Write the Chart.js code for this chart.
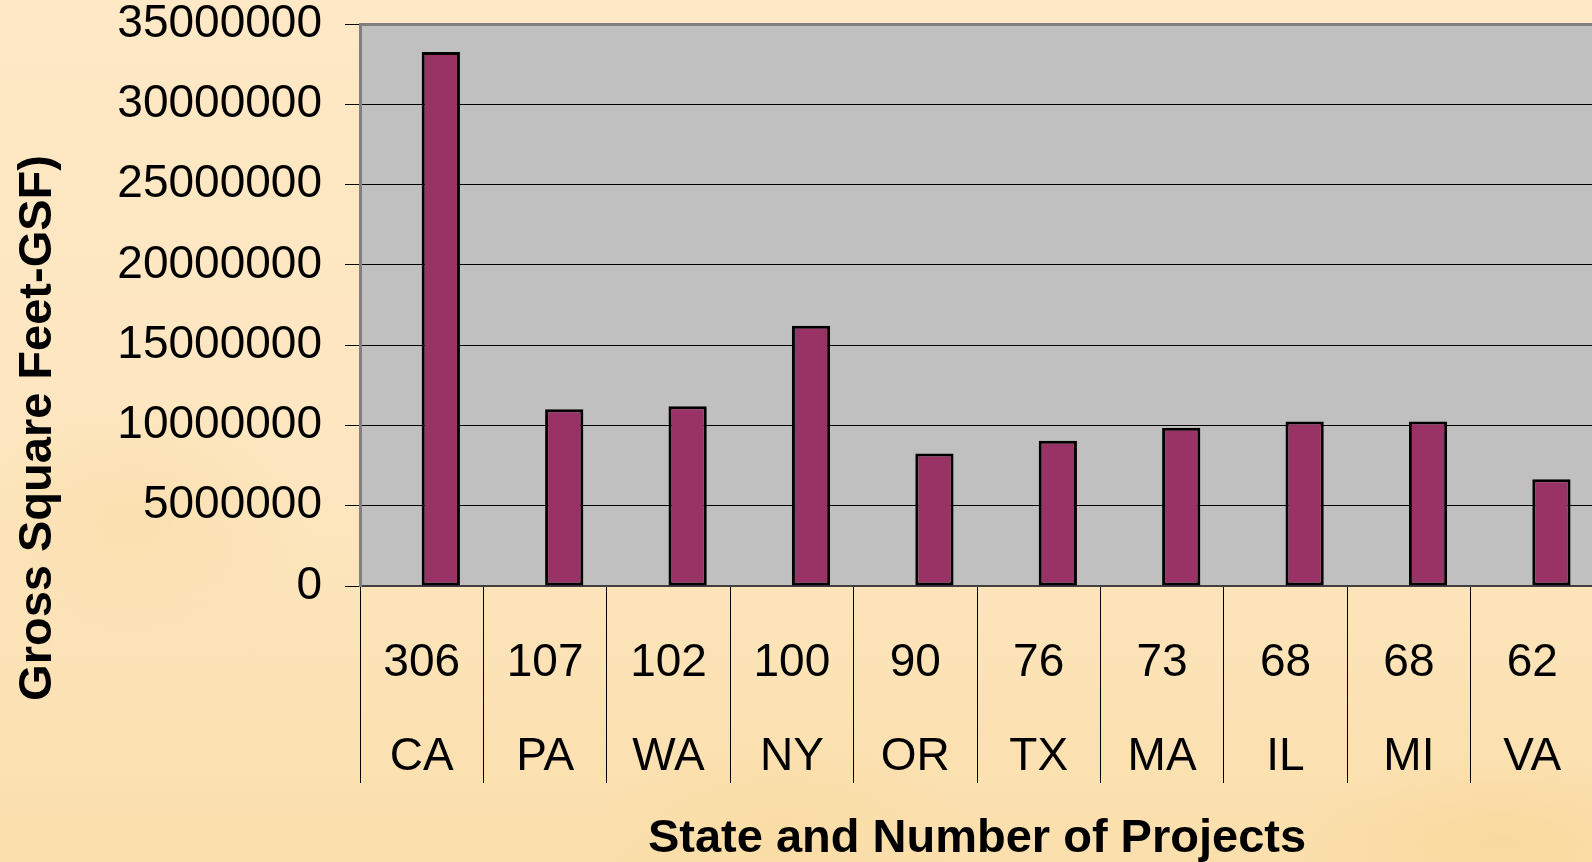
<!DOCTYPE html>
<html>
<head>
<meta charset="utf-8">
<script src="https://cdn.jsdelivr.net/npm/chart.js@4.4.1/dist/chart.umd.min.js"></script>
<style>
html, body { margin: 0; padding: 0; width: 1592px; height: 862px; overflow: hidden; }
body {
	background:
		radial-gradient(ellipse 260px 180px at 130px 520px, rgba(250,222,170,0.7), rgba(250,222,170,0) 70%),
		radial-gradient(ellipse 300px 120px at 1500px 840px, rgba(247,214,150,0.7), rgba(247,214,150,0) 70%),
		radial-gradient(ellipse 260px 140px at 780px 830px, rgba(249,219,160,0.6), rgba(249,219,160,0) 70%),
		linear-gradient(to bottom, #fee8c5 0%, #fde6c0 55%, #fbdfac 100%);
}
canvas { display: block; }
</style>
</head>
<body>
<canvas id="chart1" width="1594" height="862"></canvas>
<script>
// 가로축: 주(state)와 프로젝트 수
const states = ['CA', 'PA', 'WA', 'NY', 'OR', 'TX', 'MA', 'IL', 'MI', 'VA'];
const projectCounts = [306, 107, 102, 100, 90, 76, 73, 68, 68, 62];
// 세로축: Gross Square Feet
const gsfValues = [33250000, 11000000, 11200000, 16200000, 8250000, 9050000, 9850000, 10250000, 10250000, 6650000];
const yMin = 0;
const yMax = 35000000;
const yStep = 5000000;

const xTitle = 'State and Number of Projects';
const yTitle = 'Gross Square Feet-GSF)';

const fontFamily = '"Liberation Sans", Arial, Helvetica, sans-serif';

const labels = [];
for(let i=0; i<=states.length-1; i++) {
	labels.push([String(projectCounts[i]), states[i]]);
}

// 회색 플롯 영역 + 위쪽 테두리 + 세로축 제목
const plotArea = {
	id: 'plotArea',
	beforeDraw(chart) {
		const {ctx, chartArea} = chart;
		ctx.save();
		ctx.fillStyle = '#c0c0c0';
		ctx.fillRect(chartArea.left, chartArea.top, chartArea.right - chartArea.left, chartArea.bottom - chartArea.top);
		ctx.restore();
	},
	afterDraw(chart) {
		const {ctx, chartArea} = chart;
		ctx.save();
		ctx.strokeStyle = '#808080';
		ctx.lineWidth = 3;
		ctx.beginPath();
		ctx.moveTo(chartArea.left, chartArea.top + 0.5);
		ctx.lineTo(chartArea.right, chartArea.top + 0.5);
		ctx.stroke();

		ctx.translate(38, 428);
		ctx.rotate(-Math.PI / 2);
		ctx.font = 'bold 47px ' + fontFamily;
		ctx.fillStyle = '#000';
		ctx.textAlign = 'center';
		ctx.textBaseline = 'middle';
		ctx.fillText(yTitle, 0, 0);
		ctx.restore();
	}
};

const myChart = new Chart('chart1', {
	type: 'bar',
	data: {
		labels: labels,
		datasets: [
		{
			// 빈 첫 번째 계열 (막대가 오른쪽 절반에 오도록)
			label: '',
			data: []
		},
		{
			label: 'GSF',
			data: gsfValues,
			backgroundColor: '#993366',
			borderColor: '#000000',
			borderWidth: 3,
			borderSkipped: false,
			categoryPercentage: 0.62,
			barPercentage: 1.0
		}]
	},
	options: {
		responsive: false,
		animation: false,
		layout: {
			padding: { top: 24, left: 0, right: 0, bottom: 0 }
		},
		scales: {
			x: {
				offset: true,
				afterFit: function(scale) {
					scale.height = 276;
					scale.paddingLeft = 0;
					scale.paddingRight = 0;
				},
				grid: {
					offset: true,
					drawOnChartArea: false,
					drawTicks: true,
					tickLength: 197,
					color: '#000',
					lineWidth: 1
				},
				border: {
					color: '#404040',
					width: 2
				},
				ticks: {
					color: '#000',
					padding: -166,
					maxRotation: 0,
					autoSkip: false,
					font: { family: fontFamily, size: 46, lineHeight: 2.03 }
				},
				title: {
					display: true,
					text: xTitle,
					color: '#000',
					padding: { top: 0, bottom: -1 },
					font: { family: fontFamily, size: 47, weight: 'bold', lineHeight: 1 }
				}
			},
			y: {
				min: yMin,
				max: yMax,
				afterFit: function(scale) {
					scale.width = 360;
					scale.paddingTop = 0;
					scale.paddingBottom = 0;
				},
				grid: {
					color: '#000',
					lineWidth: 1,
					drawTicks: true,
					tickLength: 15
				},
				border: {
					color: '#808080',
					width: 3
				},
				ticks: {
					stepSize: yStep,
					color: '#000',
					padding: 23,
					font: { family: fontFamily, size: 46, lineHeight: 1 },
					callback: function(value) {
						return String(value);
					}
				}
			}
		},
		plugins: {
			legend: { display: false },
			tooltip: { enabled: false }
		}
	},
	plugins: [plotArea]
});
</script>
</body>
</html>
